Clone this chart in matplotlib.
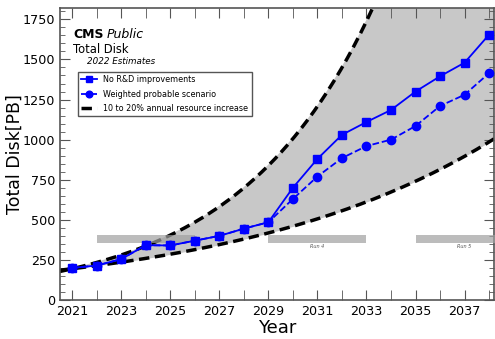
import numpy as np
import matplotlib.pyplot as plt
from matplotlib.ticker import MultipleLocator

# -------------------------------------------------
# Disk projections (PB)
# -------------------------------------------------
years = list(range(2021, 2039))

no_rnd = [200, 215, 255, 342, 340, 370, 400, 445, 485,
          700, 880, 1030, 1110, 1185, 1300, 1395, 1480, 1655]

weighted = [200, 215, 255, 342, 340, 370, 400, 445, 485,
            630, 770, 885, 960, 1000, 1085, 1210, 1280, 1415]

# flat budget band: 10% and 20% yearly growth from the 2021 level
base_year = 2021
base_value = 195
growth_low = 0.10
growth_high = 0.20

# LHC run periods
runs = ["Run 3", "Run 4", "Run 5"]
run_start = [2022, 2029, 2035]
run_end = [2026, 2033, 2039]

# -------------------------------------------------
# Plot
# -------------------------------------------------
fig = plt.figure(figsize=(4.95, 3.39), dpi=100)
ax = fig.add_axes([0.121, 0.115, 0.877, 0.861])

xs = np.linspace(2020.5, 2038.3, 200)
low = base_value * (1 + growth_low) ** (xs - base_year)
high = base_value * (1 + growth_high) ** (xs - base_year)

ax.fill_between(xs, low, high, color="#c8c8c8", zorder=1)
ax.plot(xs, high, "k--", lw=2.5, dashes=(3, 1.6), zorder=2,
        label="10 to 20% annual resource increase")
ax.plot(xs, low, "k--", lw=2.5, dashes=(3, 1.6), zorder=2)

ax.plot(years, no_rnd, "s-", color="#0000ff", ms=6, lw=1.3, zorder=4,
        label="No R&D improvements")
ax.plot(years, weighted, "o--", color="#0000ff", ms=6, lw=1.3, zorder=4,
        label="Weighted probable scenario")

for name, s, e in zip(runs, run_start, run_end):
    ax.fill_between([s, e], 356, 404, color="#a0a0a0", alpha=0.7, lw=0, zorder=3)
    if name != "Run 3":
        ax.text((s + e) / 2, 336, name, fontsize=3.5, style="italic",
                color="#555555", ha="center", va="center")

ax.set_xlim(2020.5, 2038.2)
ax.set_ylim(0, 1820)

ax.set_xticks(range(2021, 2039, 2))
ax.xaxis.set_minor_locator(MultipleLocator(1))
ax.yaxis.set_major_locator(MultipleLocator(250))
ax.yaxis.set_minor_locator(MultipleLocator(50))

ax.tick_params(which="both", direction="in", top=True, right=True,
               labelsize=9.2, color="#555555")
ax.tick_params(which="major", length=7)
ax.tick_params(axis="x", which="minor", length=7)
ax.tick_params(axis="y", which="minor", length=3.5)
for sp in ax.spines.values():
    sp.set_color("#555555")
    sp.set_linewidth(1.2)

ax.set_xlabel("Year", fontsize=13, labelpad=1)
ax.set_ylabel("Total Disk[PB]", fontsize=12.5)
ax.yaxis.set_label_coords(-0.083, 0.5)

ax.text(0.03, 0.897, "CMS", transform=ax.transAxes, fontsize=9,
        fontweight="bold", va="baseline")
ax.text(0.108, 0.897, "Public", transform=ax.transAxes, fontsize=9,
        style="italic", va="baseline")
ax.text(0.03, 0.846, "Total Disk", transform=ax.transAxes, fontsize=8.3,
        va="baseline")
ax.text(0.062, 0.808, "2022 Estimates", transform=ax.transAxes, fontsize=6.3,
        style="italic", va="baseline")

handles, labels = ax.get_legend_handles_labels()
order = [1, 2, 0]
ax.legend([handles[i] for i in order], [labels[i] for i in order],
          loc="upper left", bbox_to_anchor=(0.041, 0.781), fontsize=5.8,
          frameon=True, fancybox=False, edgecolor="#555555", framealpha=1,
          handlelength=2.0, borderpad=0.4, labelspacing=0.65, markerscale=0.8,
          borderaxespad=0)

plt.savefig("out.png", dpi=100)
